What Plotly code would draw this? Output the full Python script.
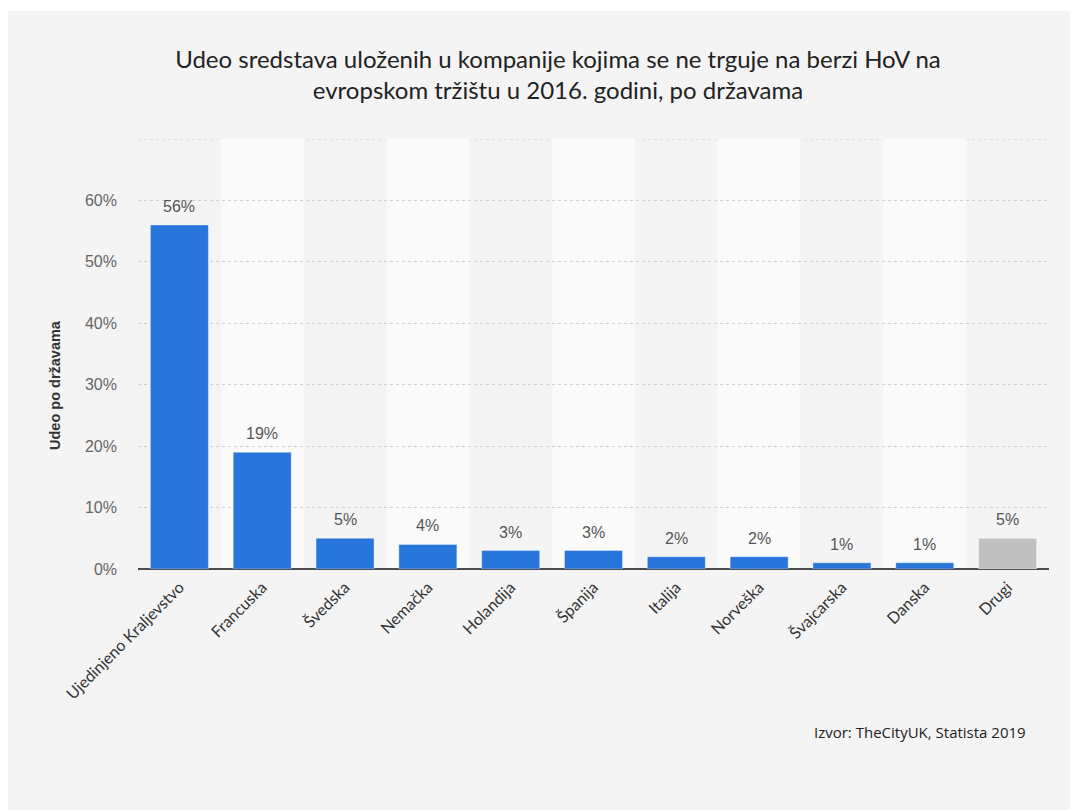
"""Udeo sredstava po državama - bar chart"""
import plotly.graph_objects as go

drzave = ["Ujedinjeno Kraljevstvo", "Francuska", "Švedska", "Nemačka", "Holandija",
          "Španija", "Italija", "Norveška", "Švajcarska", "Danska", "Drugi"]
udeo = [56, 19, 5, 4, 3, 3, 2, 2, 1, 1, 5]
oznake = [f"{v}%" for v in udeo]
boje = ["#2875dc"] * 10 + ["#c0c0c0"]
y_tickovi = [0, 10, 20, 30, 40, 50, 60, 70]

# page has 8px body margin, so figure is 1070x802
W, H = 1070, 802
ML, MR, MT, MB = 130, 29, 131, 241
pw, ph = W - ML - MR, H - MT - MB

fig = go.Figure(go.Bar(
    x=list(range(len(drzave))),
    y=udeo,
    marker=dict(color=boje, line=dict(color="rgba(255,255,255,0.35)", width=1)),
    width=0.7,
    hovertemplate="%{customdata}: %{y}%<extra></extra>",
    customdata=drzave,
))

shapes = [
    # siva pozadina panela
    dict(type="rect", xref="paper", yref="paper", layer="below",
         x0=-ML / pw, x1=(W - ML) / pw, y0=-MB / ph - 0.01, y1=1 + (MT - 3) / ph,
         fillcolor="#f4f4f4", line=dict(width=0)),
]
# svetlije trake za svaku drugu kategoriju
for i in range(1, len(drzave), 2):
    shapes.append(dict(type="rect", xref="x", yref="y", layer="below",
                       x0=i - 0.5, x1=i + 0.5, y0=0, y1=max(y_tickovi),
                       fillcolor="#fafafa", line=dict(width=0)))
# gornja linija mreže (plotly je ne crta na ivici)
shapes.append(dict(type="line", xref="paper", yref="y", layer="below",
                   x0=0, x1=1, y0=max(y_tickovi), y1=max(y_tickovi),
                   line=dict(color="#cfcfcf", width=1, dash="dot")))

annotations = [
    dict(x=i, y=v, text=t, xref="x", yref="y", showarrow=False,
         yanchor="bottom", yshift=8,
         font=dict(family="Liberation Sans, Arial", size=16, color="#555555"))
    for i, (v, t) in enumerate(zip(udeo, oznake))
]
annotations += [
    dict(text="<b>Udeo po državama</b>", xref="paper", yref="paper",
         x=(47 - ML) / pw, xanchor="center", y=1 - (377 - MT) / ph, yanchor="middle",
         textangle=-90, showarrow=False,
         font=dict(family="Liberation Sans, Arial", size=14.5, color="#333333")),
    dict(text="Izvor: TheCityUK, Statista 2019", xref="paper", yref="paper",
         x=(1020 - ML) / pw, xanchor="right", y=-(724 - MT - ph) / ph, yanchor="middle",
         showarrow=False, font=dict(family="Open Sans", size=15, color="#222222")),
]

fig.update_layout(
    width=W, height=H,
    margin=dict(l=ML, r=MR, t=MT, b=MB, autoexpand=False),
    paper_bgcolor="white",
    plot_bgcolor="rgba(0,0,0,0)",
    shapes=shapes,
    annotations=annotations,
    showlegend=False,
    title=dict(
        text="Udeo sredstava uloženih u kompanije kojima se ne trguje na berzi HoV na<br>evropskom tržištu u 2016. godini, po državama",
        x=550 / W, xanchor="center", y=1 - 60 / H, yanchor="middle",
        font=dict(family="Lato, Open Sans", size=24, color="#222222"),
    ),
    xaxis=dict(
        tickmode="array", tickvals=list(range(len(drzave))), ticktext=drzave,
        tickangle=-45, range=[-0.5, len(drzave) - 0.5],
        showgrid=False, zeroline=False, showline=False, ticks="",
        tickfont=dict(family="Lato", size=16, color="#333333"),
        ticklabelstandoff=5,
        automargin=False,
    ),
    yaxis=dict(
        range=[0, max(y_tickovi)],
        tickvals=y_tickovi,
        ticktext=[f"{v}%" for v in y_tickovi[:-1]] + [""],
        showgrid=True, gridcolor="#cfcfcf", griddash="dot", gridwidth=1,
        zeroline=True, zerolinecolor="#4d4d4d", zerolinewidth=2,
        tickfont=dict(family="Liberation Sans, Arial", size=16, color="#666666"),
        ticklabelstandoff=20,
        automargin=False,
    ),
)

fig.write_html("out.html")
